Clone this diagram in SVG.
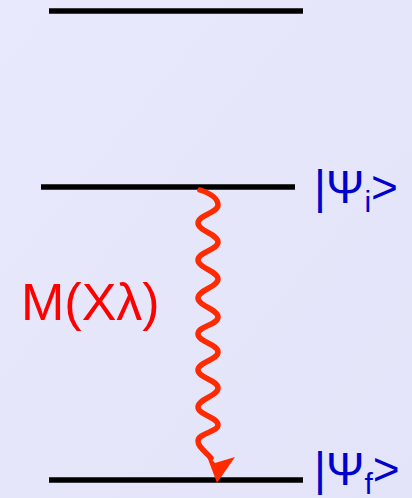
<svg xmlns="http://www.w3.org/2000/svg" width="412" height="498" viewBox="0 0 412 498">
<defs>
<linearGradient id="bg" x1="0" y1="0" x2="1" y2="1">
<stop offset="0" stop-color="#e9e9fd"/>
<stop offset="1" stop-color="#e3e3f9"/>
</linearGradient>
</defs>
<style>
.lvl{stroke:#000;stroke-width:5.5;fill:none}
.ket{font-family:"Liberation Sans",Arial,sans-serif;font-size:46px;fill:#0000cc}
.sub{font-size:30px}
.lab{font-family:"Liberation Sans",Arial,sans-serif;font-size:52px;fill:#ff0000}
.wave{stroke:#ff2a00;stroke-width:5.5;fill:none;stroke-linecap:round;stroke-linejoin:round}
</style>
<rect width="412" height="498" fill="url(#bg)"/>
<g id="level-top"><line class="lvl" x1="49" y1="11" x2="303" y2="11"/></g>
<g id="level-i"><line class="lvl" x1="41" y1="187" x2="295" y2="187"/>
<text class="ket" x="314" y="203">|Ψ<tspan class="sub" dy="9">i</tspan><tspan dy="-9">&gt;</tspan></text></g>
<g id="level-f"><line class="lvl" x1="49" y1="480" x2="303" y2="480"/>
<text class="ket" x="314" y="485">|Ψ<tspan class="sub" dy="9">f</tspan><tspan dy="-9">&gt;</tspan></text></g>
<g id="transition-label"><text class="lab" x="21" y="320">M(Xλ)</text></g>
<g id="connectors">
<path class="wave" d="M200,190 C212,194 218,199 218,205 C218,213 198,215 198,223 C198,231 218,234 218,242 C218,250 198,252 198,260 C198,268 218,271 218,279 C218,287 198,290 198,298 C198,306 218,309 218,317 C218,325 198,326 198,334 C198,342 218,344 218,352 C218,360 198,362 198,370 C198,378 218,380 218,388 C218,396 198,399 198,407 C198,415 218,417 218,425 C218,432 198,433 198,441 C198,447 205,451 211,458"/>
<polygon points="217,483 205,451 215,463 235,457" fill="#ff2a00"/>
</g>
</svg>
